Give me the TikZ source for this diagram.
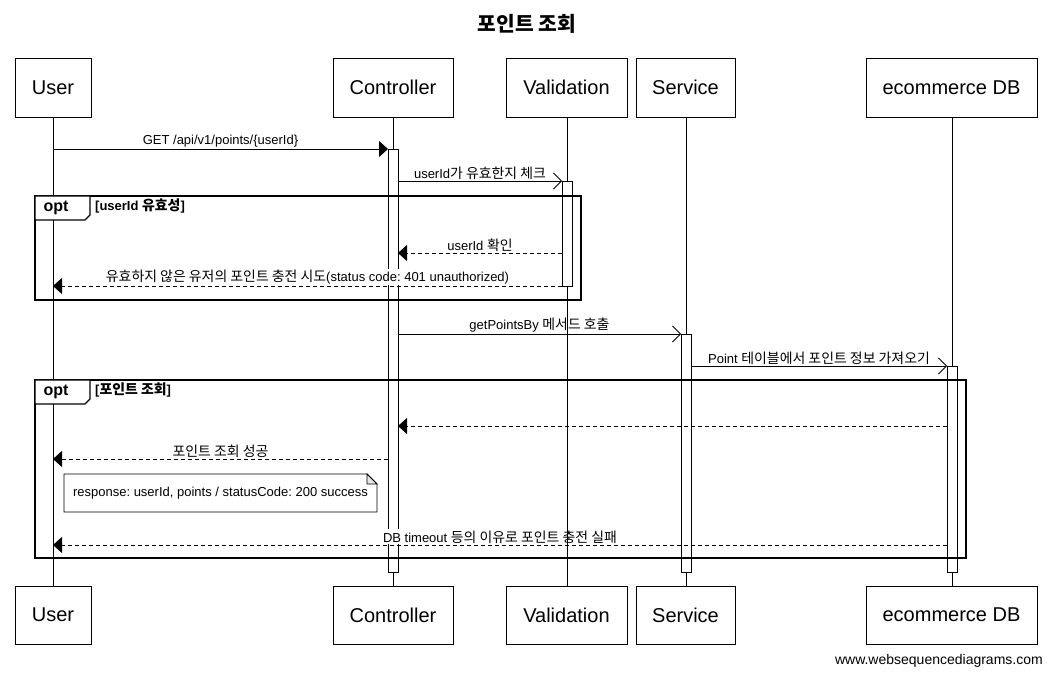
\documentclass[tikz,border=0pt]{standalone}
\usepackage{fontspec}
\setmainfont{Liberation Sans}
\newfontfamily\krfont{Noto Sans CJK KR}[Scale=1.07]
\newcommand\ko[1]{{\krfont #1}}
\usetikzlibrary{arrows.meta}
\tikzset{
  participant/.style={draw, line width=0.9pt, fill=white, inner sep=0pt, minimum height=59pt, font=\fontsize{20}{24}\selectfont},
  lifeline/.style={line width=0.8pt},
  actbar/.style={draw, fill=white, line width=0.8pt},
  syncmsg/.style={line width=0.8pt, -{Triangle[length=9pt,width=16pt]}},
  asyncmsg/.style={line width=0.8pt, -{Straight Barb[length=8pt,width=16pt,line width=0.8pt]}},
  retmsg/.style={line width=0.8pt, dash pattern=on 4pt off 3pt, -{Triangle[length=9pt,width=16pt]}},
  lbl/.style={above=0.5pt, inner sep=1pt, fill=white, font=\fontsize{13}{15}\selectfont},
  frame/.style={draw, line width=1.6pt},
  tab/.style={draw, line width=1.3pt, fill=white},
  tabtxt/.style={font=\fontsize{16}{18}\selectfont\bfseries},
  guard/.style={anchor=north west, inner sep=0pt, font=\fontsize{13}{15}\selectfont\bfseries},
  notebox/.style={draw, line width=0.8pt, fill=white},
}
\frenchspacing
\begin{document}
\begin{tikzpicture}[x=1pt,y=-1pt]
\useasboundingbox (0,0) rectangle (1053,676);
\fill[white] (0,0) rectangle (1053,676);

% title
\node[font=\fontsize{19}{22}\selectfont\bfseries] (title) at (527,24) {\ko{포인트 조회}};

% lifeline coordinates
\coordinate (uT) at (53,117);  \coordinate (uB) at (53,586);
\coordinate (cT) at (393,117); \coordinate (cB) at (393,586);
\coordinate (vT) at (567,117); \coordinate (vB) at (567,586);
\coordinate (sT) at (686,117); \coordinate (sB) at (686,586);
\coordinate (dT) at (952,117); \coordinate (dB) at (952,586);

\draw[lifeline] (uT) -- (uB);
\draw[lifeline] (cT) -- (cB);
\draw[lifeline] (vT) -- (vB);
\draw[lifeline] (sT) -- (sB);
\draw[lifeline] (dT) -- (dB);

% activation bars
\draw[actbar] (388,149) rectangle (398,572);
\draw[actbar] (562,181) rectangle (572,286);
\draw[actbar] (681,334) rectangle (691,572);
\draw[actbar] (947,366) rectangle (957,572);

% messages
\coordinate (m1s) at (53,149);  \coordinate (m1e) at (388,149);
\coordinate (m2s) at (398,181); \coordinate (m2e) at (562,181);
\coordinate (m3s) at (562,253); \coordinate (m3e) at (398,253);
\coordinate (m4s) at (562,286); \coordinate (m4e) at (53,286);
\coordinate (m5s) at (398,334); \coordinate (m5e) at (681,334);
\coordinate (m6s) at (691,366); \coordinate (m6e) at (947,366);
\coordinate (m7s) at (947,426); \coordinate (m7e) at (398,426);
\coordinate (m8s) at (388,459); \coordinate (m8e) at (53,459);
\coordinate (m9s) at (947,545); \coordinate (m9e) at (53,545);

\draw[syncmsg] (m1s) -- (m1e) node[lbl, pos=0.5] (l1) {GET /api/v1/points/\{userId\}};
\draw[asyncmsg] (m2s) -- (m2e) node[lbl, pos=0.5] (l2) {userId\ko{가 유효한지 체크}};
\draw[retmsg] (m3s) -- (m3e) node[lbl, pos=0.5] (l3) {userId \ko{확인}};
\draw[retmsg] (m4s) -- (m4e) node[lbl, pos=0.5] (l4) {\ko{유효하지 않은 유저의 포인트 충전 시도}(status code: 401 unauthorized)};
\draw[asyncmsg] (m5s) -- (m5e) node[lbl, pos=0.5] (l5) {getPointsBy \ko{메서드 호출}};
\draw[asyncmsg] (m6s) -- (m6e) node[lbl, pos=0.5] (l6) {Point \ko{테이블에서 포인트 정보 가져오기}};
\draw[retmsg] (m7s) -- (m7e);
\draw[retmsg] (m8s) -- (m8e) node[lbl, pos=0.5] (l8) {\ko{포인트 조회 성공}};
\draw[retmsg] (m9s) -- (m9e) node[lbl, pos=0.5] (l9) {DB timeout \ko{등의 이유로 포인트 충전 실패}};

% lifeline segments over labels (outside activation bars)
\draw[lifeline] (567,286) -- (vB);
\draw[lifeline] (sT) -- (686,334);

% opt frame 1
\draw[frame] (35,196) rectangle (581,300);
\draw[tab] (35,196) -- (90,196) -- (90,215) -- (85,220) -- (35,220) -- cycle;
\node[tabtxt] (opt1) at (56,208) {opt};
\node[guard] (g1) at (95,198.5) {[userId \ko{유효성}]};

% opt frame 2
\draw[frame] (35,380) rectangle (966,558);
\draw[tab] (35,380) -- (90,380) -- (90,399) -- (85,404) -- (35,404) -- cycle;
\node[tabtxt] (opt2) at (56,392) {opt};
\node[guard] (g2) at (95,382.5) {[\ko{포인트 조회}]};

% note
\draw[notebox] (64,474) -- (367,474) -- (377,484) -- (377,512) -- (64,512) -- cycle;
\draw[line width=0.8pt, fill=black!10] (367,474) -- (367,484) -- (377,484) -- cycle;
\node[font=\fontsize{13}{15}\selectfont] (note) at (220.5,493) {response: userId, points / statusCode: 200 success};

% participants
\node[participant, minimum width=76pt] (userT) at (53,87.5) {User};
\node[participant, minimum width=120pt] (ctrlT) at (393,87.5) {Controller};
\node[participant, minimum width=121pt] (valT) at (566.5,87.5) {Validation};
\node[participant, minimum width=99pt] (svcT) at (685.5,87.5) {Service};
\node[participant, minimum width=171pt] (dbT) at (951.5,87.5) {ecommerce DB};

\node[participant, minimum width=76pt, minimum height=58pt] (userB) at (53,615) {User};
\node[participant, minimum width=120pt, minimum height=58pt] (ctrlB) at (393,615) {Controller};
\node[participant, minimum width=121pt, minimum height=58pt] (valB) at (566.5,615) {Validation};
\node[participant, minimum width=99pt, minimum height=58pt] (svcB) at (685.5,615) {Service};
\node[participant, minimum width=171pt, minimum height=58pt] (dbB) at (951.5,615) {ecommerce DB};

% watermark
\node[anchor=east, inner sep=0pt, font=\fontsize{14}{16}\selectfont] (wm) at (1043,661) {www.websequencediagrams.com};
\end{tikzpicture}
\end{document}
